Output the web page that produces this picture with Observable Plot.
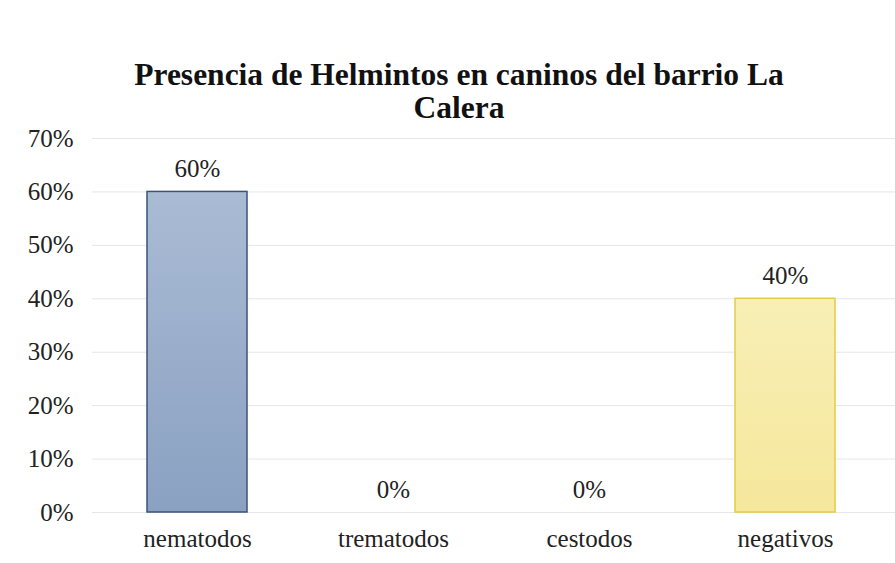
<!DOCTYPE html>
<html>
<head>
<meta charset="utf-8">
<script src="https://cdn.jsdelivr.net/npm/d3@7"></script>
<script src="https://cdn.jsdelivr.net/npm/@observablehq/plot@0.6"></script>
<style>
  html, body { margin: 0; padding: 0; background: #ffffff; }
  #wrap { width: 895px; height: 563px; position: relative; overflow: hidden; }
  #title {
    position: absolute; left: 0; top: 58px; width: 918px; text-align: center;
    font-family: "Liberation Serif", "Times New Roman", serif; font-weight: bold;
    font-size: 31.5px; line-height: 33px; color: #111;
  }
  #chart { position: absolute; left: 0; top: 120px; }
</style>
</head>
<body>
<div id="wrap">
  <div id="title">Presencia de Helmintos en caninos del barrio La<br>Calera</div>
  <div id="chart"></div>
</div>
<script>
const categories = ["nematodos", "trematodos", "cestodos", "negativos"];
const values = [0.60, 0.00, 0.00, 0.40];
const labels = ["60%", "0%", "0%", "40%"];
const yTicks = [0, 0.1, 0.2, 0.3, 0.4, 0.5, 0.6, 0.7];

const fills = ["url(#gBlue)", "none", "none", "url(#gYellow)"];
const strokes = ["#3b5378", "none", "none", "#e3cc45"];

const data = categories.map((c, i) => ({cat: c, value: values[i], label: labels[i], fill: fills[i], stroke: strokes[i]}));

const plot = Plot.plot({
  width: 895,
  height: 443,
  marginTop: 18,
  marginBottom: 51,
  marginLeft: 96,
  marginRight: 10,
  style: {fontFamily: "'Liberation Serif', 'Times New Roman', serif", fontSize: "25px", color: "#222", background: "transparent"},
  x: {domain: categories, paddingInner: 0.49, paddingOuter: 0.25, label: null, tickSize: 0, tickPadding: 17},
  y: {domain: [0, 0.7], ticks: yTicks, tickFormat: d => Math.round(d * 100) + "%", label: null, tickSize: 0, tickPadding: 23},
  marks: [
    Plot.ruleY(yTicks, {stroke: "#e6e6e6", strokeWidth: 1, insetLeft: -4, insetRight: -10}),
    Plot.barY(data, {x: "cat", y: "value", fill: "fill", stroke: "stroke", strokeWidth: 1.5}),
    Plot.text(data, {x: "cat", y: "value", text: "label", dy: -23, fontSize: 25, fill: "#222"})
  ]
});

const ns = "http://www.w3.org/2000/svg";
const defs = document.createElementNS(ns, "defs");
defs.innerHTML = `
  <linearGradient id="gBlue" x1="0" y1="0" x2="0" y2="1">
    <stop offset="0%" stop-color="#aabbd4"/>
    <stop offset="100%" stop-color="#8aa1c2"/>
  </linearGradient>
  <linearGradient id="gYellow" x1="0" y1="0" x2="0" y2="1">
    <stop offset="0%" stop-color="#f8efb6"/>
    <stop offset="100%" stop-color="#f5e79b"/>
  </linearGradient>`;
plot.insertBefore(defs, plot.firstChild);
document.getElementById("chart").appendChild(plot);
</script>
</body>
</html>
